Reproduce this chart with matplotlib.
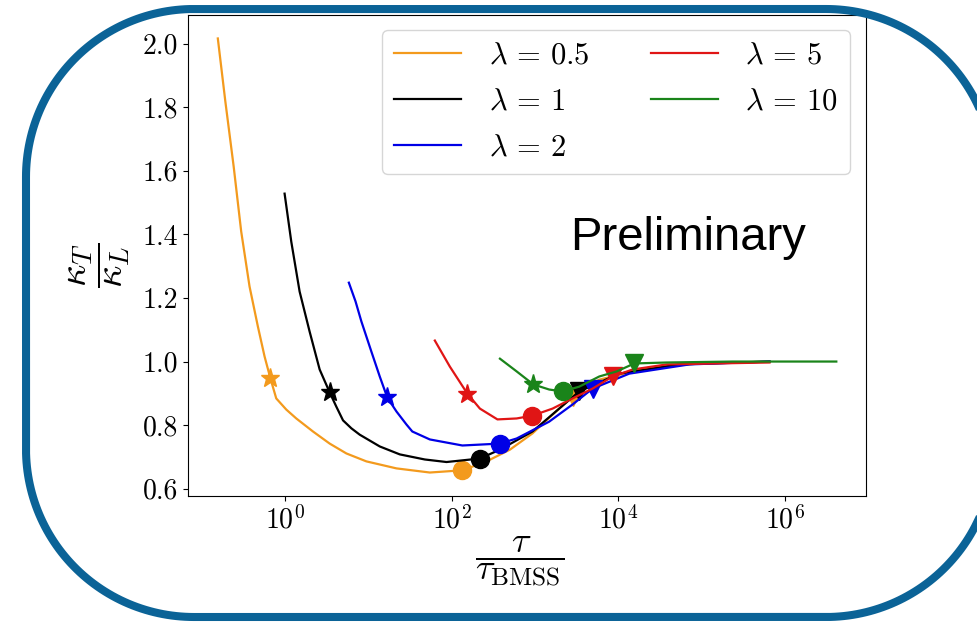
import numpy as np
import matplotlib
matplotlib.use("Agg")
import matplotlib.pyplot as plt

plt.rcParams['font.family'] = 'serif'
plt.rcParams['font.serif'] = ['cmr10', 'DejaVu Serif']
plt.rcParams['mathtext.fontset'] = 'cm'
plt.rcParams['axes.formatter.use_mathtext'] = True

# log10(tau / tau_BMSS) and kappa_T / kappa_L for each lambda
lam_labels = [r'$\lambda\,=\,0.5$', r'$\lambda\,=\,1$', r'$\lambda\,=\,2$',
              r'$\lambda\,=\,5$', r'$\lambda\,=\,10$']
colors = ['#f39a1d', 'black', '#0000e6', '#e01515', '#1a841a']

lx_05 = [-0.80, -0.71, -0.61, -0.52, -0.42, -0.32, -0.24, -0.17, -0.10, 0.02, 0.14,
         0.34, 0.54, 0.74, 0.98, 1.34, 1.74, 2.13, 2.42, 2.70, 2.97, 3.21, 3.45,
         3.77, 4.37, 4.97, 5.81]
k_05 = [2.016, 1.818, 1.613, 1.409, 1.236, 1.110, 1.016, 0.947, 0.884, 0.849, 0.821,
        0.780, 0.742, 0.711, 0.686, 0.664, 0.651, 0.658, 0.686, 0.723, 0.774, 0.833, 0.890,
        0.943, 0.981, 0.994, 1.0]

lx_1 = [0.0, 0.08, 0.18, 0.30, 0.42, 0.54, 0.62, 0.70, 0.80, 0.90, 1.14, 1.38, 1.68,
        1.94, 2.34, 2.58, 2.97, 3.29, 3.53, 4.01, 4.73, 5.81]
k_1 = [1.528, 1.377, 1.220, 1.094, 0.975, 0.903, 0.858, 0.815, 0.790, 0.770, 0.733, 0.708,
       0.692, 0.684, 0.695, 0.723, 0.780, 0.852, 0.906, 0.962, 0.991, 1.0]

lx_2 = [0.77, 0.85, 0.92, 1.04, 1.14, 1.23, 1.34, 1.46, 1.53, 1.74, 2.13, 2.58, 2.78,
        3.17, 3.45, 3.69, 4.13, 4.85, 5.81]
k_2 = [1.248, 1.189, 1.126, 1.031, 0.953, 0.887, 0.843, 0.802, 0.780, 0.755, 0.736, 0.742,
       0.758, 0.811, 0.865, 0.915, 0.962, 0.991, 1.0]

lx_5 = [1.80, 1.98, 2.19, 2.34, 2.55, 2.78, 2.97, 3.21, 3.45, 3.69, 3.93, 4.17,
        4.58, 5.17, 5.81]
k_5 = [1.066, 0.984, 0.899, 0.852, 0.818, 0.821, 0.830, 0.852, 0.884, 0.915, 0.953, 0.975,
       0.991, 0.994, 0.997]

lx_10 = [2.58, 2.78, 2.98, 3.17, 3.33, 3.53, 3.77, 3.98, 4.19, 4.58, 5.37, 6.61]
k_10 = [1.009, 0.969, 0.928, 0.912, 0.906, 0.921, 0.953, 0.969, 0.994, 0.997, 1.0, 1.0]

# marker positions (star, circle, down triangle) per curve
star_lx = [-0.17, 0.54, 1.23, 2.19, 2.98]
star_k = [0.947, 0.903, 0.887, 0.899, 0.928]
dot_lx = [2.13, 2.34, 2.58, 2.97, 3.33]
dot_k = [0.660, 0.695, 0.742, 0.830, 0.906]
tri_lx = [3.45, 3.53, 3.69, 3.93, 4.19]
tri_k = [0.890, 0.906, 0.915, 0.953, 0.994]

curves = [(lx_05, k_05), (lx_1, k_1), (lx_2, k_2), (lx_5, k_5), (lx_10, k_10)]

fig = plt.figure(figsize=(9.78, 6.22), dpi=100)
ax = fig.add_axes([0.192, 0.203, 0.693, 0.773])

for i, (lx, k) in enumerate(curves):
    c = colors[i]
    ax.plot(10 ** np.array(lx), k, color=c, lw=1.6, label=lam_labels[i])
    ax.plot(10 ** star_lx[i], star_k[i], marker='*', ms=14, color=c, ls='none')
    ax.plot(10 ** dot_lx[i], dot_k[i], marker='o', ms=13, color=c, ls='none')
    ax.plot(10 ** tri_lx[i], tri_k[i], marker='v', ms=13, color=c, ls='none')

ax.set_xscale('log')
ax.set_xlim(10 ** -1.16, 10 ** 6.96)
ax.set_ylim(0.578, 2.09)
ax.set_xticks([1e0, 1e2, 1e4, 1e6])
ax.xaxis.set_minor_locator(matplotlib.ticker.NullLocator())
ax.set_yticks([0.6, 0.8, 1.0, 1.2, 1.4, 1.6, 1.8, 2.0])
ax.set_yticklabels(['0.6', '0.8', '1.0', '1.2', '1.4', '1.6', '1.8', '2.0'])
ax.tick_params(labelsize=20)

ax.set_xlabel(r'$\dfrac{\tau}{\tau_{\rm BMSS}}$', fontsize=26)
ax.xaxis.set_label_coords(0.49, -0.08)
ax.set_ylabel(r'$\dfrac{\kappa_T}{\kappa_L}$', fontsize=28)
ax.yaxis.set_label_coords(-0.083, 0.48)

ax.legend(ncol=2, fontsize=22, handlelength=2.2, handletextpad=0.9,
          columnspacing=2.0, labelspacing=0.6, loc='upper right')

fig.text(0.7035, 0.598, 'Preliminary', family='Liberation Sans', fontsize=34,
         ha='center', va='baseline')

# rounded frame with circular corners, in pixel units on a full-figure overlay
ov = fig.add_axes([0, 0, 1, 1], zorder=10)
ov.set_xlim(0, 978)
ov.set_ylim(0, 622)
ov.axis('off')
ov.patch.set_alpha(0)

x0, x1, y0, y1, r = 26, 994, 5, 613, 168
t = np.linspace(0, np.pi / 2, 60)
fx = np.concatenate([x1 - r + r * np.cos(t), x0 + r - r * np.sin(t),
                     x0 + r - r * np.cos(t), x1 - r + r * np.sin(t)])
fy = np.concatenate([y1 - r + r * np.sin(t), y1 - r + r * np.cos(t),
                     y0 + r - r * np.sin(t), y0 + r - r * np.cos(t)])
ov.plot(np.append(fx, fx[0]), np.append(fy, fy[0]), color='#0b6397', lw=5.8,
        solid_joinstyle='round')

fig.savefig('out.png', dpi=100)
